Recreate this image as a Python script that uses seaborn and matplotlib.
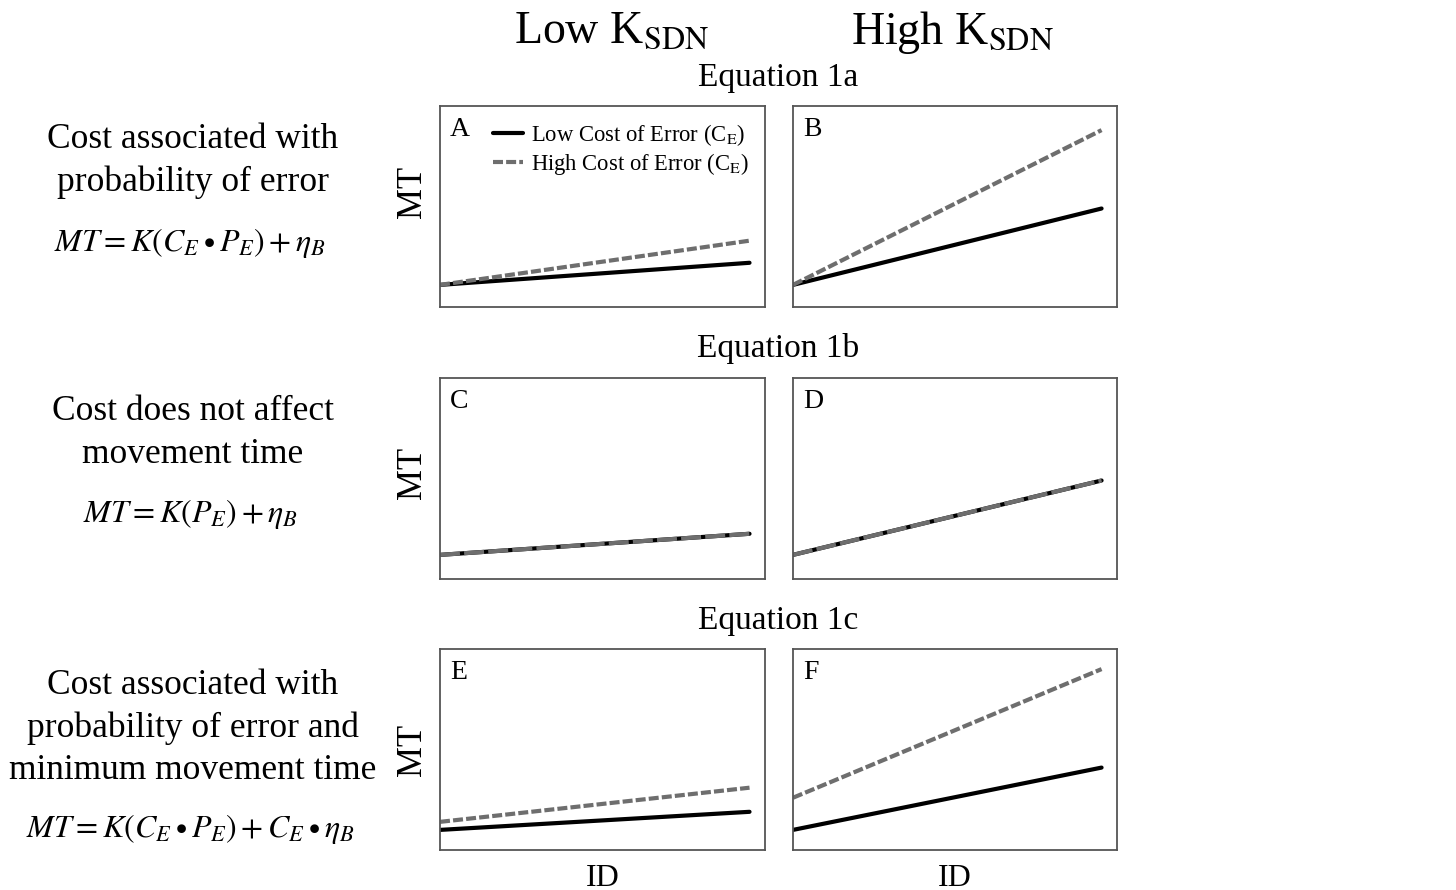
import matplotlib
matplotlib.use("Agg")
import matplotlib.pyplot as plt
import seaborn as sns
import pandas as pd

# Predicted movement time (MT, fraction of axis height) at the lowest and
# highest index of difficulty (ID) for each panel.
panel_letters = ["A", "B", "C", "D", "E", "F"]
id_levels = [0.0, 1.0]
low_cost_mt_start = [0.11, 0.11, 0.12, 0.12, 0.10, 0.10]
low_cost_mt_end = [0.22, 0.49, 0.225, 0.49, 0.19, 0.41]
high_cost_mt_start = [0.11, 0.11, 0.12, 0.12, 0.14, 0.26]
high_cost_mt_end = [0.33, 0.88, 0.225, 0.49, 0.31, 0.90]

cost_labels = ["Low Cost of Error (C$_\\mathrm{E}$)", "High Cost of Error (C$_\\mathrm{E}$)"]
column_titles = ["Low K$_\\mathrm{SDN}$", "High K$_\\mathrm{SDN}$"]
row_titles = ["Equation 1a", "Equation 1b", "Equation 1c"]
row_descriptions = [
    "Cost associated with\nprobability of error",
    "Cost does not affect\nmovement time",
    "Cost associated with\nprobability of error and\nminimum movement time",
]
row_equations = [
    r"$MT = K\left(C_{E} \bullet P_{E}\right) + \eta_{B}$",
    r"$MT = K\left(P_{E}\right) + \eta_{B}$",
    r"$MT = K\left(C_{E} \bullet P_{E}\right) + C_{E} \bullet \eta_{B}$",
]

rows = []
for i, p in enumerate(panel_letters):
    for x, y in zip(id_levels, [low_cost_mt_start[i], low_cost_mt_end[i]]):
        rows.append({"panel": p, "cost": cost_labels[0], "ID": x, "MT": y})
    for x, y in zip(id_levels, [high_cost_mt_start[i], high_cost_mt_end[i]]):
        rows.append({"panel": p, "cost": cost_labels[1], "ID": x, "MT": y})
df = pd.DataFrame(rows)

sns.set_theme(style="white")
plt.rcParams["font.family"] = ["Liberation Serif", "DejaVu Serif"]
plt.rcParams["mathtext.fontset"] = "stix"
plt.rcParams["text.color"] = "black"
plt.rcParams["axes.labelcolor"] = "black"

W, H = 1456, 890
fig = plt.figure(figsize=(W / 100, H / 100), dpi=100)

col_left = [440, 793]
col_width = [325, 324]
row_top = [106, 378, 649]
panel_h = 201
mt_label_y = [0.57, 0.53, 0.5]
palette = {cost_labels[0]: "black", cost_labels[1]: "#6e6e6e"}

for r in range(3):
    for c in range(2):
        idx = r * 2 + c
        p = panel_letters[idx]
        ax = fig.add_axes([col_left[c] / W, 1 - (row_top[r] + panel_h) / H,
                           col_width[c] / W, panel_h / H])
        overlap = low_cost_mt_end[idx] == high_cost_mt_end[idx] and \
            low_cost_mt_start[idx] == high_cost_mt_start[idx]
        gray_dash = (4.8, 1.0) if overlap else (2.4, 0.75)
        sns.lineplot(data=df[df["panel"] == p], x="ID", y="MT", hue="cost",
                     style="cost", hue_order=cost_labels, style_order=cost_labels,
                     palette=palette, dashes={cost_labels[0]: "", cost_labels[1]: gray_dash},
                     linewidth=3.0, ax=ax, legend=(p == "A"))
        ax.set_xlim(0, 1.05)
        ax.set_ylim(0, 1)
        ax.set_xticks([])
        ax.set_yticks([])
        ax.set_xlabel("")
        ax.set_ylabel("")
        for s in ax.spines.values():
            s.set_color("#555555")
            s.set_linewidth(1.3)
        ax.text(0.03, 0.945, p, transform=ax.transAxes, ha="left", va="top",
                fontsize=20, color="black")
        if c == 0:
            ax.set_ylabel("MT", fontsize=25)
            ax.yaxis.set_label_coords(-0.034, mt_label_y[r])
        if r == 2:
            ax.set_xlabel("ID", fontsize=23, labelpad=10)
        if p == "A":
            handles, labels = ax.get_legend_handles_labels()
            ax.legend(handles, labels, loc="upper right", bbox_to_anchor=(1.0, 1.0),
                      frameon=False, fontsize=16.3, handlelength=1.33,
                      handletextpad=0.35, labelspacing=0.15, borderaxespad=0.3)

# Column headers, row headers and row descriptions
for c, t in enumerate(column_titles):
    fig.text([612, 952][c] / W, 1 - 32 / H, t, ha="center", va="center", fontsize=33)
for r in range(3):
    fig.text(778 / W, 1 - [78, 349, 621][r] / H, row_titles[r],
             ha="center", va="center", fontsize=24)

desc_y = [161, 433, 728]
eq_y = [243, 514, 829]
for r in range(3):
    fig.text(193 / W, 1 - desc_y[r] / H, row_descriptions[r], ha="center",
             va="center", fontsize=25.5, linespacing=1.38)
    fig.text(190 / W, 1 - eq_y[r] / H, row_equations[r], ha="center",
             va="center", fontsize=23)

fig.savefig("out.png", dpi=100)
